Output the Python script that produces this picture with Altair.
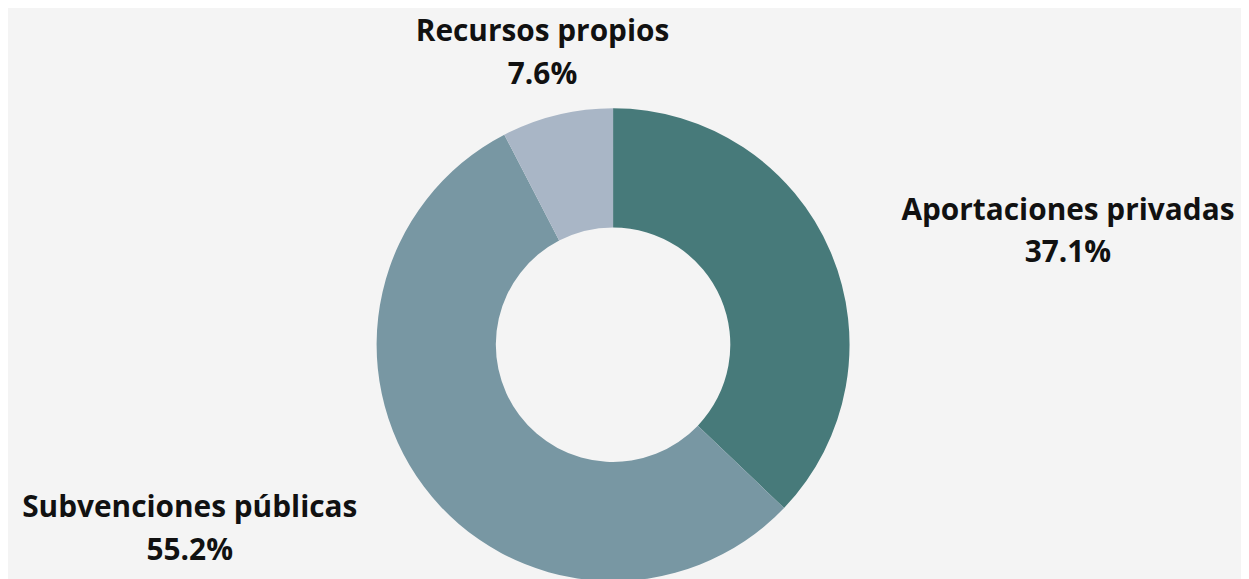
import altair as alt
import pandas as pd

categorias = ["Aportaciones privadas", "Subvenciones públicas", "Recursos propios"]
porcentajes = [37.1, 55.2, 7.6]
etiquetas = ["37.1%", "55.2%", "7.6%"]
lado = ["derecha", "izquierda", "arriba"]
orden = [1, 2, 3]
colores = ["#477a7a", "#7897a3", "#a9b6c6"]

df = pd.DataFrame({
    "categoria": categorias,
    "valor": porcentajes,
    "etiqueta": [[c, e] for c, e in zip(categorias, etiquetas)],
    "lado": lado,
    "orden": orden,
})

total = sum(porcentajes)
CX, CY = 609, 337
theta_scale = alt.Scale(domain=[0, total])

base = alt.Chart(df).transform_window(
    fin="sum(valor)", sort=[alt.SortField("orden")], frame=[None, 0]
).transform_calculate(
    inicio="datum.fin - datum.valor",
    medio="datum.fin - datum.valor / 2",
).encode(
    x=alt.value(CX),
    y=alt.value(CY),
)

arcs = base.mark_arc(radius=238, radius2=118, stroke=None).encode(
    theta=alt.Theta("inicio:Q", scale=theta_scale),
    theta2="fin:Q",
    color=alt.Color("categoria:N", scale=alt.Scale(domain=categorias, range=colores), legend=None),
)

def labels(side, dx, dy):
    return base.transform_filter(alt.datum.lado == side).mark_text(
        radius=300, align="center", baseline="middle", dx=dx, dy=dy,
        font="Open Sans", fontWeight="bold", fontSize=30, lineHeight=43, color="#111111"
    ).encode(
        theta=alt.Theta("medio:Q", scale=theta_scale),
        text="etiqueta",
    )

chart = alt.layer(
    arcs,
    labels("derecha", 182, -17),
    labels("izquierda", -186, -15),
    labels("arriba", 0, -23),
).properties(
    width=1241, height=571, autosize=alt.AutoSizeParams(type="none"), padding=0,
    background="#f4f4f4"
).configure_view(stroke=None)

chart.save("out.html", embed_options={"renderer": "svg", "actions": False})
